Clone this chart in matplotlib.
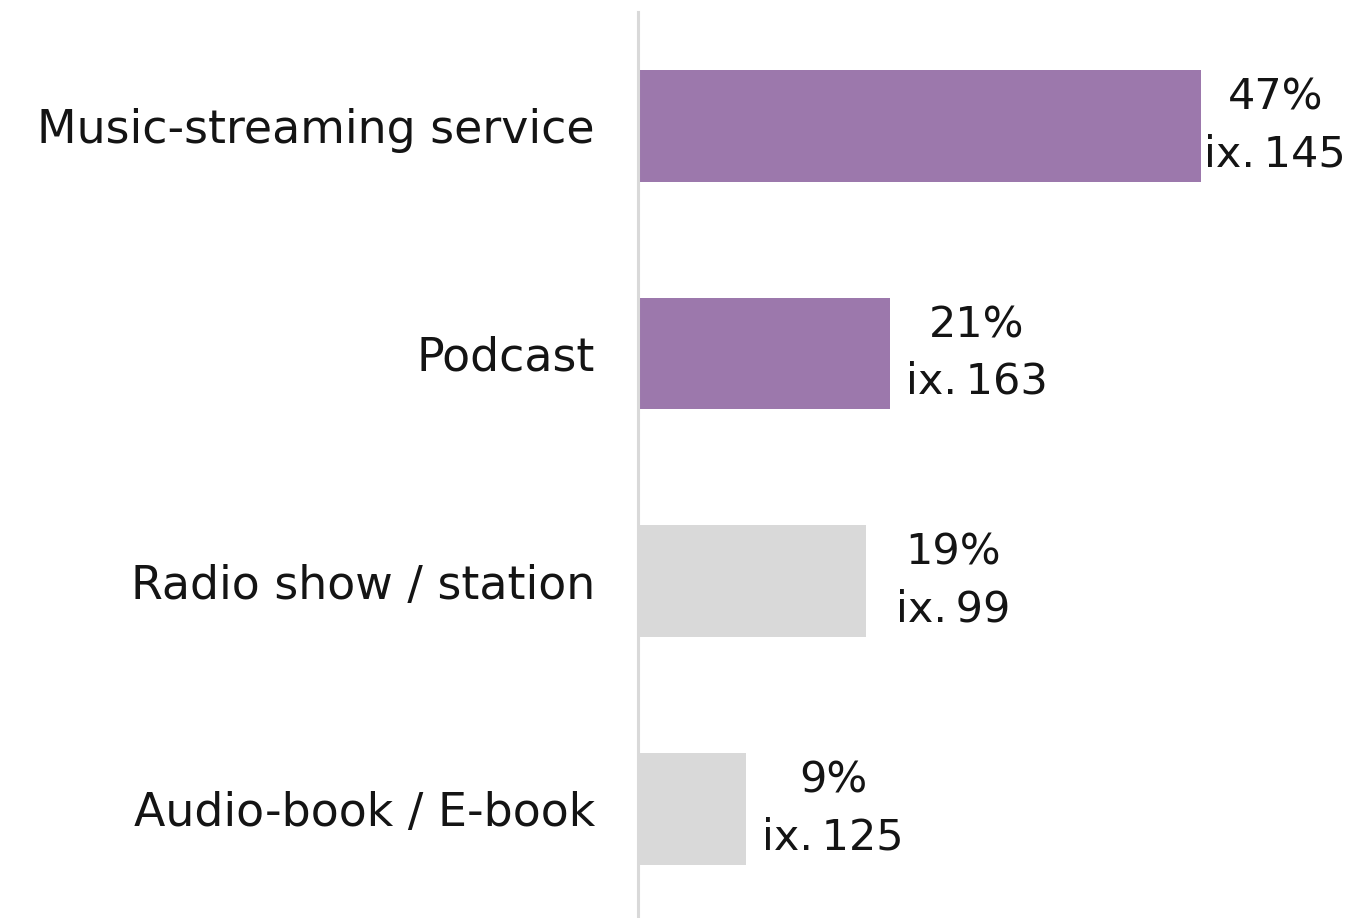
import matplotlib.pyplot as plt
import numpy as np

categories = ["Music-streaming service", "Podcast", "Radio show / station", "Audio-book / E-book"]
shares = [47, 21, 19, 9]
index_values = [145, 163, 99, 125]
highlight = [True, True, False, False]

PURPLE = "#9c78ac"
GREY = "#d9d9d9"
TEXT = "#141414"

plt.rcParams['font.family'] = ['DejaVu Sans']

fig = plt.figure(figsize=(13.53, 9.18), dpi=100)
ax = fig.add_axes([638 / 1353, 0, 1 - 638 / 1353, 906 / 918])

y = np.arange(len(categories))
colors = [PURPLE if h else GREY for h in highlight]
ax.barh(y, shares, height=0.49, color=colors)

XMAX = 59.7
for yi, s, ix in zip(y, shares, index_values):
    # keep the widest label inside the figure
    xc = min(s + 7.3, 53.2)
    ax.text(xc, yi, f"{s}%\nix.\u2009{ix}", ha='center', va='center',
            fontsize=31, color=TEXT, linespacing=1.45)

ax.set_xlim(0, XMAX)
ax.set_ylim(3.48, -0.5)
ax.set_yticks(y)
ax.set_yticklabels(categories, fontsize=33, color=TEXT)
ax.tick_params(axis='y', length=0, pad=31)
ax.set_xticks([])

for side in ['top', 'right', 'bottom']:
    ax.spines[side].set_visible(False)
ax.spines['left'].set_color(GREY)
ax.spines['left'].set_linewidth(2.2)

fig.savefig("out.png", dpi=100)
